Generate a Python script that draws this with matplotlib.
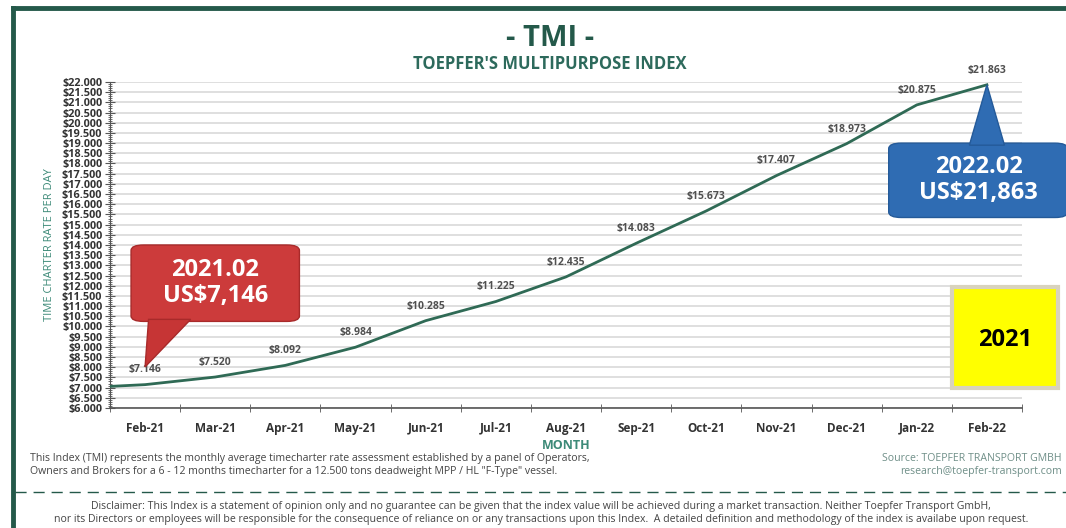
import matplotlib.pyplot as plt
import numpy as np
from matplotlib.patches import FancyBboxPatch, Polygon, Rectangle
from matplotlib.ticker import MultipleLocator, FuncFormatter

plt.rcParams["font.family"] = ["Open Sans", "DejaVu Sans"]

months = ["Feb-21", "Mar-21", "Apr-21", "May-21", "Jun-21", "Jul-21", "Aug-21",
          "Sep-21", "Oct-21", "Nov-21", "Dec-21", "Jan-22", "Feb-22"]
rates = [7146, 7520, 8092, 8984, 10285, 11225, 12435,
         14083, 15673, 17407, 18973, 20875, 21863]
# the line in the source starts at the axis edge, slightly below Feb-21
rate_at_axis = 7060

GREEN = "#24594a"
TEAL = "#3d8a78"
LINE = "#2f6a55"

fig = plt.figure(figsize=(10.66, 5.28), dpi=100)
fig.patch.set_facecolor("white")
ax = fig.add_axes([110 / 1066, 0.2273, 912 / 1066, 0.6174])

x = np.arange(len(months))
ax.plot(np.r_[-0.5, x], np.r_[rate_at_axis, rates], color=LINE, lw=2.0, zorder=3)

for xi, v in zip(x, rates):
    ax.text(xi, v + 450, f"${v:,}".replace(",", "."), ha="center", va="bottom",
            fontsize=7.5, fontweight="bold", color="#505050", zorder=4)

ax.set_xlim(-0.5, len(months) - 0.5)
ax.set_ylim(6000, 22000)
ax.yaxis.set_major_locator(MultipleLocator(500))
ax.yaxis.set_minor_locator(MultipleLocator(100))
ax.yaxis.set_major_formatter(FuncFormatter(lambda v, p: f"${v:,.0f}".replace(",", ".")))
ax.set_xticks(x)
ax.set_xticks(np.arange(-0.5, len(months), 1.0), minor=True)
ax.set_xticklabels(months)
ax.tick_params(axis="x", which="major", length=0, pad=10, labelsize=8.5, labelcolor="#333333")
ax.tick_params(axis="x", which="minor", direction="inout", length=6, color="#555555")
ax.tick_params(axis="y", which="major", direction="inout", length=7, color="#555555",
               labelsize=7.8, labelcolor="#333333", pad=2)
ax.tick_params(axis="y", which="minor", direction="inout", length=3, color="#555555")
for lab in ax.get_xticklabels() + ax.get_yticklabels():
    lab.set_fontweight("bold")

ax.grid(axis="y", which="major", color="#dcdcdc", lw=1.3, zorder=0)
for s in ["top", "right"]:
    ax.spines[s].set_visible(False)
ax.spines["left"].set_color("#555555")
ax.spines["bottom"].set_color("#555555")
ax.spines["bottom"].set_linewidth(1.2)

ax.set_ylabel("TIME CHARTER RATE PER DAY", fontsize=8, color=TEAL, labelpad=5)
ax.set_xlabel("MONTH", fontsize=9, fontweight="bold", color=TEAL, labelpad=3)

# red callout for the first month
ax.add_patch(FancyBboxPatch((-0.2, 10250), 2.4, 3750, boxstyle="round,pad=0,rounding_size=0.18",
                            mutation_aspect=1500, fc="#cc3b3b", ec="#a82a2a", lw=1,
                            clip_on=False, zorder=6))
ax.add_patch(Polygon([(0.05, 10350), (0.65, 10350), (0.0, rates[0] + 870)],
                     closed=True, fc="#c63535", ec="#a82a2a", lw=1, clip_on=False, zorder=6))
ax.text(1.0, 12120, "2021.02\nUS$7,146", ha="center", va="center", color="white",
        fontsize=17, fontweight="bold", linespacing=1.1, zorder=7)

# blue callout for the latest month
ax.add_patch(FancyBboxPatch((10.6, 15350), 2.55, 3650, boxstyle="round,pad=0,rounding_size=0.18",
                            mutation_aspect=1500, fc="#2f6cb3", ec="#245a99", lw=1,
                            clip_on=False, zorder=6))
ax.add_patch(Polygon([(11.75, 18900), (12.25, 18900), (12.0, rates[-1])],
                     closed=True, fc="#2f6cb3", ec="#245a99", lw=1, clip_on=False, zorder=6))
ax.text(11.88, 17180, "2022.02\nUS$21,863", ha="center", va="center", color="white",
        fontsize=17, fontweight="bold", linespacing=1.1, zorder=7)

# yellow year box
fig.patches.append(Rectangle((952 / 1066, 1 - 388 / 528), 106 / 1066, 101 / 528,
                             transform=fig.transFigure, fc="#ffff00", ec="#d9d3bd", lw=3, zorder=5))
fig.text(1005 / 1066, 1 - 340 / 528, "2021", ha="center", va="center", fontsize=17,
         fontweight="bold", color="black", zorder=6)

# titles
fig.text(550 / 1066, 1 - 38 / 528, "- TMI -", ha="center", va="center", fontsize=21,
         fontweight="bold", color=GREEN)
fig.text(550 / 1066, 1 - 64 / 528, "TOEPFER'S MULTIPURPOSE INDEX", ha="center", va="center",
         fontsize=12, fontweight="bold", color="#2d6a5c")

# frame
fig.add_artist(plt.Line2D([13 / 1066, 1], [1 - 8 / 528] * 2, transform=fig.transFigure,
                          color=GREEN, lw=3.5))
fig.add_artist(plt.Line2D([13 / 1066] * 2, [0, 1 - 8 / 528], transform=fig.transFigure,
                          color=GREEN, lw=3.5))
fig.add_artist(plt.Line2D([15 / 1066, 1], [1 - 492 / 528] * 2, transform=fig.transFigure,
                          color=GREEN, lw=1, ls=(0, (8, 5))))

# footnotes
fig.text(30 / 1066, 1 - 465 / 528,
         "This Index (TMI) represents the monthly average timecharter rate assessment established by a panel of Operators,\n"
         "Owners and Brokers for a 6 - 12 months timecharter for a 12.500 tons deadweight MPP / HL \"F-Type\" vessel.",
         ha="left", va="center", fontsize=7.6, color="#444444", linespacing=1.3)
fig.text(1062 / 1066, 1 - 465 / 528,
         "Source: TOEPFER TRANSPORT GMBH\nresearch@toepfer-transport.com",
         ha="right", va="center", fontsize=7.6, color="#6f8f88", linespacing=1.3,
         multialignment="right")
fig.text(541 / 1066, 1 - 513 / 528,
         "Disclaimer: This Index is a statement of opinion only and no guarantee can be given that the index value will be achieved during a market transaction. Neither Toepfer Transport GmbH,\n"
         "nor its Directors or employees will be responsible for the consequence of reliance on or any transactions upon this Index.  A detailed definition and methodology of the index is availabe upon request.",
         ha="center", va="center", fontsize=7.6, color="#444444", linespacing=1.3)

fig.savefig("out.png", dpi=100)
